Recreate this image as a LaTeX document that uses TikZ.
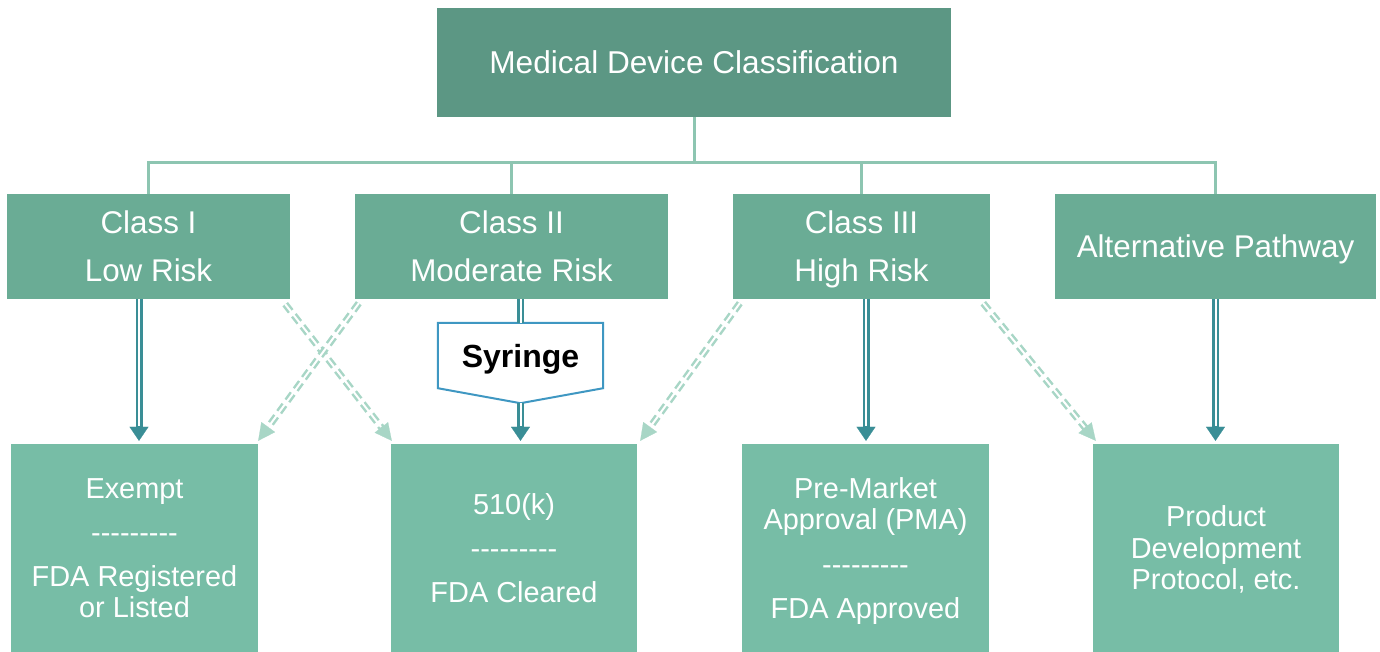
\documentclass[tikz,border=0pt]{standalone}
\usepackage{fontspec}
\setmainfont{Liberation Sans}
\usetikzlibrary{arrows.meta,calc}
\definecolor{topc}{HTML}{5C9784}
\definecolor{midc}{HTML}{6AAC95}
\definecolor{botc}{HTML}{77BDA6}
\definecolor{connc}{HTML}{8DC5B1}
\definecolor{arrc}{HTML}{3A8E96}
\definecolor{dashc}{HTML}{A8D6C6}
\definecolor{syrc}{HTML}{3F97C2}
\newcommand\dashrow{-\kern0pt-\kern0pt-\kern0pt-\kern0pt-\kern0pt-\kern0pt-\kern0pt-\kern0pt-}
\newcommand\solidarrow[2]{%
  \draw[solidtip] #1 -- #2;
  \draw[solidouter] #1 -- #2;
  \draw[solidinner] #1 -- #2;}
\newcommand\dasharrow[2]{%
  \draw[dashtip] #1 -- #2;
  \draw[dashouter] #1 -- #2;
  \draw[dashinner] #1 -- #2;}
\tikzset{
  box/.style={rectangle, inner sep=0pt, text=white, align=center},
  topbox/.style={box, fill=topc, font=\fontsize{31.6}{37}\selectfont},
  midbox/.style={box, fill=midc, minimum height=105pt, text depth=0pt, font=\fontsize{31.4}{48}\selectfont},
  botbox/.style={box, fill=botc, minimum height=208pt, text depth=0pt, font=\fontsize{28.9}{31.5}\selectfont},
  conn/.style={draw=connc, line width=3pt},
  solidtip/.style={draw=arrc, fill=arrc, line width=0.2pt, -{Triangle[length=14pt,width=19pt]}},
  solidouter/.style={draw=arrc, line width=7pt, shorten >=13.5pt},
  solidinner/.style={draw=white, line width=2pt, shorten >=14.5pt},
  plainouter/.style={draw=arrc, line width=7pt},
  plaininner/.style={draw=white, line width=2pt},
  dashtip/.style={draw=dashc, line width=0.2pt, -{Triangle[length=17pt,width=17pt]}},
  dashouter/.style={draw=dashc, line width=7pt, dash pattern=on 9pt off 5pt, shorten >=16.5pt},
  dashinner/.style={draw=white, line width=2pt, shorten >=17.5pt},
  syrtext/.style={inner sep=0pt, minimum width=165pt, minimum height=65pt, text depth=0pt, font=\fontsize{32}{36}\selectfont\bfseries},
  syrline/.style={draw=syrc, line width=2pt, line join=miter},
}
\begin{document}
\begin{tikzpicture}[x=1pt,y=-1pt]
\useasboundingbox (0,0) rectangle (1380,651);
% top
\node[topbox, minimum width=514pt, minimum height=109pt] (top) at (694,62.5) {Medical Device Classification};
% middle row
\node[midbox, minimum width=283pt] (c1) at (148.5,246.5) {Class I\\Low Risk};
\node[midbox, minimum width=313pt] (c2) at (511.5,246.5) {Class II\\Moderate Risk};
\node[midbox, minimum width=257pt] (c3) at (861.5,246.5) {Class III\\High Risk};
\node[midbox, minimum width=321pt] (c4) at (1215.5,246.5) {Alternative Pathway};
% bottom row
\node[botbox, minimum width=247pt] (b1) at (134.5,548) {Exempt\\[13pt]\dashrow\\[12pt]FDA Registered\\or Listed};
\node[botbox, minimum width=246pt] (b2) at (514,548) {510(k)\\[13pt]\dashrow\\[12pt]FDA Cleared};
\node[botbox, minimum width=247pt] (b3) at (865.5,548) {Pre-Market\\Approval (PMA)\\[13pt]\dashrow\\[13pt]FDA Approved};
\node[botbox, minimum width=246pt] (b4) at (1216,548) {Product\\Development\\Protocol, etc.};
% syringe
\node[syrtext] (syr) at (520.5,355.5) {Syringe};
\coordinate (syrtip) at ($(syr.south)+(0,15)$);
\draw[syrline] (syr.north west) -- (syr.north east) -- (syr.south east) -- (syrtip) -- (syr.south west) -- cycle;
% tree connectors
\coordinate (hub) at ($(top.south)+(0,45)$);
\draw[conn] (top.south) -- (hub);
\draw[conn] (hub) -| (c1.north);
\draw[conn] (hub) -| (c2.north);
\draw[conn] (hub) -| (c3.north);
\draw[conn] (hub) -| (c4.north);
% solid arrows
\solidarrow{([xshift=-9.5pt]c1.south)}{([xshift=4.5pt,yshift=3pt]b1.north)}
\draw[plainouter] (c2.south -| syr.north) -- (syr.north);
\draw[plaininner] (c2.south -| syr.north) -- (syr.north);
\solidarrow{(syrtip)}{([yshift=3pt]syrtip |- b2.north)}
\solidarrow{([xshift=4.5pt]c3.south)}{([xshift=0.5pt,yshift=3pt]b3.north)}
\solidarrow{(c4.south)}{([yshift=3pt]c4.south |- b4.north)}
% dashed arrows
\dasharrow{($(c1.south east)+(-5,5)$)}{($(b2.north west)+(1,-3)$)}
\dasharrow{($(c2.south west)+(4,4)$)}{($(b1.north east)+(0,-3)$)}
\dasharrow{($(c3.south west)+(7,4)$)}{($(b2.north east)+(3,-3)$)}
\dasharrow{($(c3.south east)+(-7,4)$)}{($(b4.north west)+(3,-3)$)}
\end{tikzpicture}
\end{document}
